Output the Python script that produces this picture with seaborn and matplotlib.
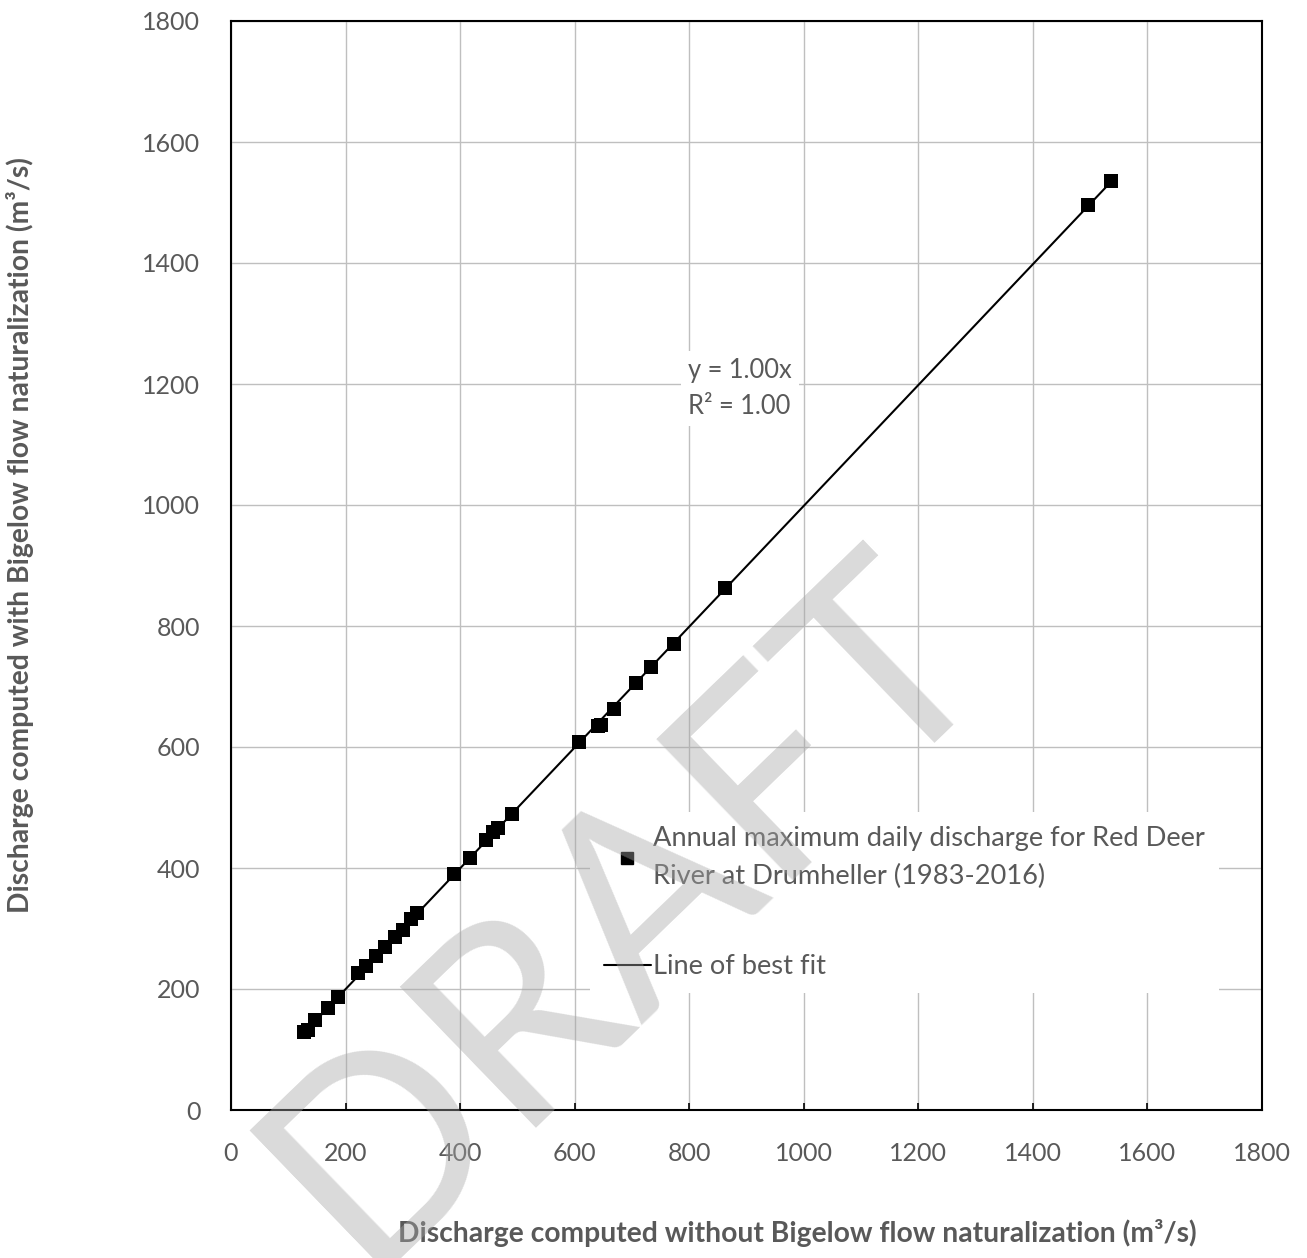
import numpy as np
import pandas as pd
import matplotlib
matplotlib.use("Agg")
import matplotlib.pyplot as plt
import seaborn as sns
from matplotlib.lines import Line2D

# ---- data ----
q_without = [128, 135, 147, 170, 186, 222, 236, 253, 269, 286, 300, 314, 324,
             389, 417, 446, 458, 467, 490, 607, 640, 646, 669, 707, 733, 773,
             863, 1497, 1537]
q_with = [129, 132, 148, 168, 186, 227, 238, 255, 270, 286, 298, 315, 325,
          390, 417, 447, 459, 466, 490, 609, 635, 637, 663, 705, 733, 771,
          863, 1496, 1536]
ticks = [0, 200, 400, 600, 800, 1000, 1200, 1400, 1600, 1800]
series_label = "Annual maximum daily discharge for Red Deer\nRiver at Drumheller (1983-2016)"
fit_label = "Line of best fit"
xlabel = "Discharge computed without Bigelow flow naturalization (m³/s)"
ylabel = "Discharge computed with Bigelow flow naturalization (m³/s)"

df = pd.DataFrame({"x": q_without, "y": q_with})
x_arr = np.asarray(q_without, float)
y_arr = np.asarray(q_with, float)
slope = float(np.sum(x_arr * y_arr) / np.sum(x_arr * x_arr))
fit_df = pd.DataFrame({"x": [x_arr.min(), x_arr.max()]})
fit_df["y"] = slope * fit_df["x"]

sns.set_theme(style="white")
plt.rcParams["font.family"] = ["Lato", "DejaVu Sans"]
TXT = "#595959"

fig = plt.figure(figsize=(13.07, 12.58), dpi=100)
ax = fig.add_axes([231 / 1307, 148 / 1258, 1031 / 1307, 1089 / 1258])

ax.set_xlim(0, 1800)
ax.set_ylim(0, 1800)
ax.set_xticks(ticks)
ax.set_yticks(ticks)
ax.grid(True, color="#bfbfbf", linewidth=1.0, zorder=0)
ax.set_axisbelow(True)

sns.lineplot(data=fit_df, x="x", y="y", color="black", linewidth=1.5,
             ax=ax, zorder=3, legend=False)
sns.scatterplot(data=df, x="x", y="y", marker="s", s=95, color="black",
                edgecolor="black", linewidth=0, ax=ax, zorder=4, legend=False)

for sp in ax.spines.values():
    sp.set_visible(True)
    sp.set_color("black")
    sp.set_linewidth(1.5)

ax.tick_params(axis="x", direction="in", length=5, width=1.2, color="black",
               labelsize=18, labelcolor=TXT, pad=23, bottom=True)
ax.tick_params(axis="y", length=0, labelsize=18, labelcolor=TXT, pad=22, left=False)

ax.set_xlabel(xlabel, fontsize=20.3, fontweight="bold", color=TXT)
ax.set_ylabel(ylabel, fontsize=20.3, fontweight="bold", color=TXT)
ax.xaxis.set_label_coords((797 - 231) / 1031, (1110 - 1219) / 1089)
ax.yaxis.set_label_coords((34 - 231) / 1031, (1110 - 535) / 1089)

# trendline equation
ax.text(798, 1192, "y = 1.00x\nR² = 1.00", fontsize=18.4, color=TXT,
        ha="left", va="center", linespacing=1.55, zorder=5,
        bbox=dict(facecolor="white", edgecolor="none", pad=5))

handles = [
    Line2D([], [], marker="s", linestyle="none", color="black", markersize=9),
    Line2D([], [], color="black", linewidth=1.5),
]
leg = ax.legend(handles, [series_label, fit_label], loc="upper left",
                bbox_to_anchor=((590 - 231) / 1031, (1110 - 812) / 1089),
                frameon=True, fontsize=19.6, borderaxespad=0,
                handlelength=1.73, handletextpad=0.1, labelspacing=2.4,
                borderpad=0.5, framealpha=1.0, fancybox=False)
leg.get_frame().set_facecolor("white")
leg.get_frame().set_edgecolor("none")
for t in leg.get_texts():
    t.set_color(TXT)
    t.set_linespacing(1.65)

fig.text(362 / 1307, 1 - 1272 / 1258, "DRAFT", fontsize=197, color="#a6a6a6",
         alpha=0.42, rotation=44, ha="left", va="baseline",
         rotation_mode="anchor", zorder=10)

fig.savefig("out.png", dpi=100, facecolor="white")
